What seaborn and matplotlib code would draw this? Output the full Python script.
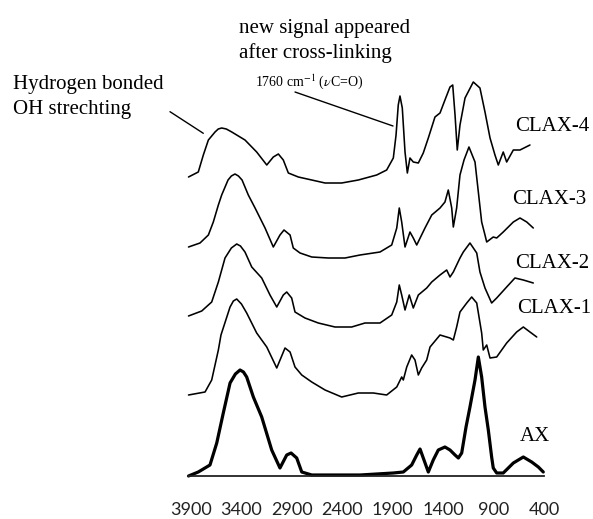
import matplotlib
matplotlib.use("Agg")
import matplotlib.pyplot as plt
from matplotlib.lines import Line2D
import numpy as np
import pandas as pd
import seaborn as sns

# ---------------- data (stacked absorbance, a.u.) ----------------
ax_wn = [3925, 3828, 3712, 3645, 3580, 3513, 3460, 3414, 3380, 3348, 3282, 3199, 3100, 3018, 2951, 2908, 2852,
         2802, 2703, 2224, 1894, 1795, 1712, 1662, 1629, 1597, 1547, 1498, 1448, 1382, 1332, 1282,
         1249, 1216, 1173, 1134, 1084, 1051, 1018, 985, 952, 919, 903, 869, 804, 704, 605, 522, 456, 407]
ax_abs = [0.00, 0.04, 0.11, 0.33, 0.63, 0.93, 1.02, 1.06, 1.04, 0.99, 0.79, 0.59, 0.26, 0.08, 0.21, 0.23, 0.18,
          0.04, 0.01, 0.01, 0.03, 0.04, 0.11, 0.21, 0.27, 0.18, 0.04, 0.16, 0.26, 0.29, 0.26, 0.21,
          0.18, 0.23, 0.49, 0.69, 0.96, 1.19, 0.99, 0.69, 0.46, 0.19, 0.08, 0.03, 0.03, 0.13, 0.19,
          0.14, 0.09, 0.04]

clax1_wn = [3925, 3761, 3695, 3629, 3603, 3513, 3480, 3447, 3400, 3348, 3249, 3149, 3050, 2968, 2918, 2869, 2802,
            2703, 2571, 2406, 2241, 2092, 1960, 1860, 1811, 1795, 1761, 1712, 1679, 1646, 1613, 1563,
            1530, 1431, 1332, 1299, 1266, 1233, 1166, 1117, 1067, 1018, 1002, 968, 935, 869, 770,
            671, 605, 539, 472]
clax1_abs = [0.81, 0.84, 0.96, 1.26, 1.41, 1.69, 1.75, 1.77, 1.72, 1.63, 1.43, 1.29, 1.08, 1.28, 1.24, 1.09, 1.01,
             0.94, 0.86, 0.79, 0.83, 0.83, 0.81, 0.89, 0.99, 0.96, 1.09, 1.21, 1.16, 1.01, 1.08, 1.16,
             1.29, 1.41, 1.38, 1.36, 1.49, 1.64, 1.73, 1.79, 1.73, 1.43, 1.26, 1.31, 1.18, 1.19, 1.33,
             1.44, 1.49, 1.44, 1.39]

clax2_wn = [3925, 3794, 3695, 3629, 3563, 3500, 3447, 3410, 3365, 3298, 3199, 3117, 3050, 2985, 2951, 2902, 2869,
            2770, 2638, 2472, 2307, 2175, 2026, 1910, 1860, 1835, 1811, 1778, 1736, 1696, 1646, 1563,
            1513, 1431, 1365, 1332, 1299, 1233, 1200, 1134, 1067, 1035, 985, 919, 869, 770, 688, 605, 506]
clax2_abs = [1.60, 1.65, 1.74, 1.94, 2.18, 2.28, 2.32, 2.30, 2.24, 2.09, 1.98, 1.81, 1.69, 1.81, 1.84, 1.78, 1.64,
             1.58, 1.53, 1.49, 1.49, 1.53, 1.53, 1.61, 1.74, 1.91, 1.81, 1.66, 1.81, 1.68, 1.81, 1.88,
             1.94, 2.01, 2.06, 1.99, 2.04, 2.18, 2.24, 2.33, 2.23, 2.04, 1.88, 1.73, 1.78, 1.89, 1.98,
             1.96, 1.93]

clax3_wn = [3925, 3811, 3728, 3679, 3629, 3596, 3533, 3500, 3464, 3430, 3394, 3332, 3265, 3166, 3084, 3018, 2978,
            2918, 2886, 2819, 2703, 2539, 2373, 2224, 2026, 1910, 1860, 1835, 1811, 1778, 1729, 1696,
            1662, 1580, 1513, 1431, 1382, 1349, 1315, 1299, 1266, 1233, 1193, 1144, 1084, 1018, 985,
            968, 903, 869, 804, 704, 638, 571, 506]
clax3_abs = [2.29, 2.33, 2.41, 2.54, 2.71, 2.81, 2.96, 3.00, 3.02, 3.00, 2.96, 2.81, 2.68, 2.48, 2.29, 2.41, 2.46,
             2.41, 2.28, 2.23, 2.19, 2.18, 2.18, 2.21, 2.24, 2.31, 2.48, 2.68, 2.54, 2.29, 2.44, 2.38,
             2.31, 2.48, 2.61, 2.68, 2.74, 2.86, 2.68, 2.49, 2.68, 3.01, 3.16, 3.29, 3.14, 2.54, 2.41,
             2.34, 2.39, 2.38, 2.44, 2.54, 2.58, 2.54, 2.48]

clax4_wn = [3925, 3828, 3778, 3728, 3662, 3630, 3596, 3550, 3496, 3365, 3249, 3149, 3084, 3034, 2985, 2935, 2836,
            2703, 2571, 2406, 2241, 2059, 1960, 1894, 1867, 1845, 1828, 1805, 1778, 1755, 1729, 1696,
            1646, 1597, 1547, 1481, 1431, 1382, 1332, 1305, 1282, 1260, 1233, 1183, 1101, 1035, 985,
            935, 886, 853, 804, 770, 704, 638, 539]
clax4_abs = [2.99, 3.04, 3.21, 3.36, 3.44, 3.47, 3.48, 3.47, 3.44, 3.36, 3.24, 3.11, 3.19, 3.22, 3.16, 3.03, 2.99,
             2.96, 2.93, 2.93, 2.96, 3.01, 3.06, 3.18, 3.41, 3.71, 3.80, 3.68, 3.24, 3.03, 3.18, 3.14,
             3.13, 3.23, 3.38, 3.59, 3.63, 3.76, 3.89, 3.91, 3.61, 3.26, 3.51, 3.78, 3.94, 3.88, 3.64,
             3.38, 3.21, 3.11, 3.24, 3.14, 3.26, 3.26, 3.31]

samples = ["AX", "CLAX-1", "CLAX-2", "CLAX-3", "CLAX-4"]
x_ticks = [3900, 3400, 2900, 2400, 1900, 1400, 900, 400]
x_tick_labels = ["3900", "3400", "2900", "2400", "1900", "1400", "900", "400"]

series = {
    "AX": (ax_wn, ax_abs),
    "CLAX-1": (clax1_wn, clax1_abs),
    "CLAX-2": (clax2_wn, clax2_abs),
    "CLAX-3": (clax3_wn, clax3_abs),
    "CLAX-4": (clax4_wn, clax4_abs),
}
df = pd.concat(
    [pd.DataFrame({"wavenumber": w, "absorbance": a, "sample": s}) for s, (w, a) in series.items()],
    ignore_index=True,
)

# ---------------- style ----------------
sns.set_style("white")
plt.rcParams["font.family"] = ["Liberation Serif", "DejaVu Serif"]
plt.rcParams["mathtext.fontset"] = "stix"

W, H = 593, 519
fig = plt.figure(figsize=(W / 100, H / 100), dpi=100)
ax = fig.add_axes([188 / W, 43 / H, 358 / W, 400 / H])


def px(x, y):
    return x / W, 1 - y / H


sns.lineplot(
    data=df, x="wavenumber", y="absorbance", hue="sample", size="sample",
    palette={s: "black" for s in samples},
    sizes={"AX": 2.3, "CLAX-1": 1.15, "CLAX-2": 1.15, "CLAX-3": 1.15, "CLAX-4": 1.15},
    sort=False, estimator=None, legend=False, ax=ax,
)
for ln in ax.lines:
    ln.set_clip_on(False)
    ln.set_solid_joinstyle("round")

ax.set_xlim(3930, 380)
ax.set_ylim(0, 4.0)
ax.set_xlabel("")
ax.set_ylabel("")
ax.set_yticks([])
for sp in ["left", "top", "right"]:
    ax.spines[sp].set_visible(False)
ax.spines["bottom"].set_bounds(3930, 400)
ax.spines["bottom"].set_linewidth(1.3)
ax.spines["bottom"].set_color("#222222")
ax.set_xticks(x_ticks)
ax.set_xticklabels(x_tick_labels, family="Lato", fontsize=13, color="#222222")
ax.tick_params(axis="x", direction="out", length=5, width=1.0, color="#333333", pad=14)
ax.patch.set_alpha(0)

# ---------------- annotations ----------------
serif = dict(family=["Liberation Serif", "DejaVu Serif"], color="black")
labels_pos = {"CLAX-4": (515, 126.7), "CLAX-3": (512, 200), "CLAX-2": (515, 263.3),
              "CLAX-1": (517, 308.3), "AX": (520, 436.7)}
for s in samples:
    x, y = labels_pos[s]
    fig.text(*px(x, y), s, fontsize=15, ha="left", va="center", **serif)

fig.text(*px(239, 28.3), "new signal appeared", fontsize=15, ha="left", va="center", **serif)
fig.text(*px(239, 53.3), "after cross-linking", fontsize=15, ha="left", va="center", **serif)
fig.text(*px(255, 81.7), r"1760 cm$^{-1}$ ($\nu$C=O)", fontsize=10, ha="left", va="center", **serif)
fig.text(*px(13, 85), "Hydrogen bonded", fontsize=15, ha="left", va="center", **serif)
fig.text(*px(13, 110), "OH strechting", fontsize=15, ha="left", va="center", **serif)

for (x0, y0), (x1, y1) in [((170, 111.7), (203.3, 133.3)), ((295, 92), (393, 126))]:
    a0, b0 = px(x0, y0)
    a1, b1 = px(x1, y1)
    fig.add_artist(Line2D([a0, a1], [b0, b1], transform=fig.transFigure, color="black", lw=1.0))

fig.savefig("out.png", dpi=100)
